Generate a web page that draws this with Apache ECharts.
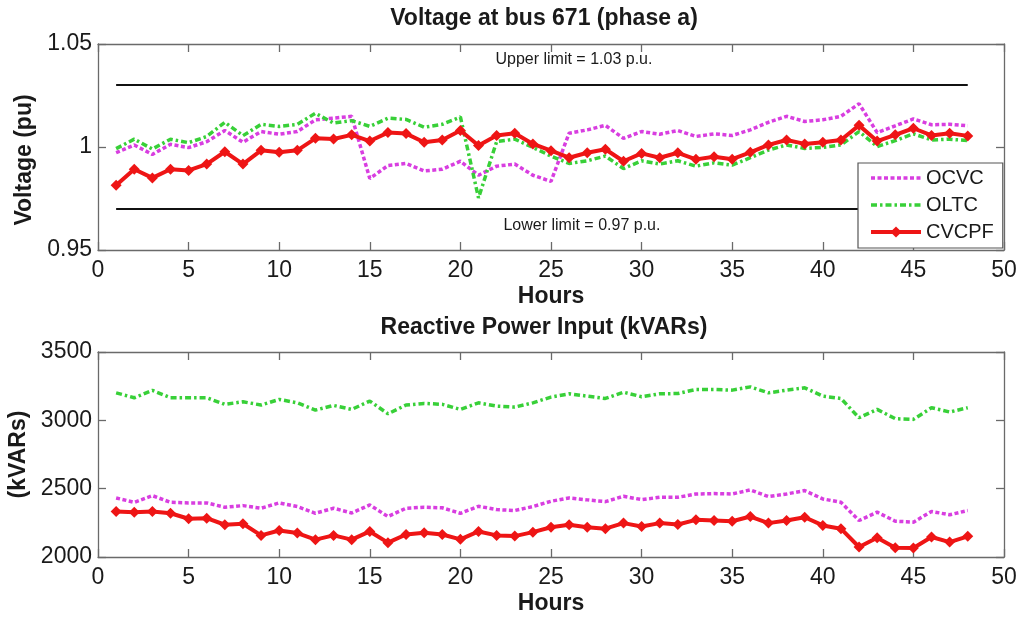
<!DOCTYPE html>
<html>
<head>
<meta charset="utf-8">
<script src="https://cdn.jsdelivr.net/npm/echarts@6/dist/echarts.min.js"></script>
<style>
html,body{margin:0;padding:0;background:#fff;}
#chart{width:1024px;height:621px;}
</style>
</head>
<body>
<div id="chart"></div>
<script>
// ---- data ----
const hours = [1,2,3,4,5,6,7,8,9,10,11,12,13,14,15,16,17,18,19,20,21,22,23,24,25,26,27,28,29,30,31,32,33,34,35,36,37,38,39,40,41,42,43,44,45,46,47,48];
const xTicks = [0,5,10,15,20,25,30,35,40,45,50];
const voltageTicks = [0.95,1,1.05];
const powerTicks = [2000,2500,3000,3500];
const seriesNames = ['OCVC','OLTC','CVCPF'];

const voltOCVC = [0.9972,1.0010,0.9964,1.0013,0.9997,1.0026,1.0080,1.0023,1.0075,1.0062,1.0075,1.0132,1.0140,1.0149,0.9847,0.9910,0.9920,0.9884,0.9892,0.9931,0.9863,0.9907,0.9917,0.9863,0.9833,1.0067,1.0083,1.0105,1.0042,1.0075,1.0062,1.0080,1.0051,1.0064,1.0056,1.0083,1.0120,1.0149,1.0124,1.0132,1.0149,1.0210,1.0070,1.0103,1.0136,1.0108,1.0110,1.0103];
const voltOLTC = [0.9992,1.0038,0.9990,1.0038,1.0021,1.0051,1.0120,1.0055,1.0110,1.0100,1.0110,1.0164,1.0116,1.0128,1.0100,1.0140,1.0134,1.0096,1.0110,1.0146,0.9753,1.0026,1.0038,0.9998,0.9956,0.9920,0.9933,0.9956,0.9895,0.9933,0.9917,0.9933,0.9907,0.9923,0.9912,0.9948,0.9985,1.0010,0.9993,0.9998,1.0010,1.0075,1.0002,1.0031,1.0064,1.0034,1.0038,1.0031];
const voltCVCPF = [0.9814,0.9892,0.9850,0.9892,0.9886,0.9917,0.9977,0.9917,0.9984,0.9974,0.9984,1.0042,1.0039,1.0059,1.0029,1.0070,1.0065,1.0023,1.0034,1.0080,1.0007,1.0056,1.0067,1.0015,0.9982,0.9948,0.9972,0.9989,0.9931,0.9969,0.9948,0.9972,0.9940,0.9953,0.9941,0.9974,1.0010,1.0034,1.0015,1.0023,1.0034,1.0105,1.0029,1.0059,1.0091,1.0056,1.0067,1.0054];

const powOCVC = [2432,2400,2449,2400,2396,2396,2364,2376,2357,2396,2369,2320,2357,2322,2381,2296,2357,2364,2360,2320,2371,2347,2340,2369,2408,2432,2418,2405,2444,2420,2437,2437,2461,2464,2461,2491,2442,2461,2486,2425,2400,2267,2328,2262,2255,2333,2309,2340];
const powOLTC = [3201,3165,3219,3165,3165,3165,3117,3136,3112,3153,3128,3075,3109,3080,3141,3048,3112,3124,3117,3080,3128,3104,3097,3128,3170,3194,3177,3160,3206,3173,3194,3196,3226,3226,3221,3245,3201,3221,3238,3177,3160,3019,3080,3012,3007,3092,3061,3092];
const powCVCPF = [2333,2328,2333,2320,2280,2284,2236,2243,2158,2194,2175,2127,2158,2127,2187,2105,2165,2178,2165,2129,2187,2158,2153,2182,2218,2236,2218,2207,2248,2223,2248,2238,2272,2267,2262,2296,2248,2267,2291,2231,2207,2073,2141,2068,2066,2146,2109,2151];

const limitValues = [1.03, 0.97];
const limitLabels = ['Upper limit = 1.03 p.u.', 'Lower limit = 0.97 p.u.'];
const titles = ['Voltage at bus 671 (phase a)', 'Reactive Power Input (kVARs)'];
const axisNames = {x:'Hours', yTop:'Voltage (pu)', yBottom:'(kVARs)'};

// ---- styles ----
const FONT = '"Liberation Sans", Arial, Helvetica, sans-serif';
const AXIS_COLOR = '#6a6a6a';
const TEXT_COLOR = '#1a1a1a';
const C_OCVC = '#d83ee0';
const C_OLTC = '#38d038';
const C_CVCPF = '#ee1515';
const DOT = [4, 2.5];
const DASHDOT = [6, 3, 2.5, 3];

const pairs = (vals) => hours.map((h, i) => [h, vals[i]]);
const tickFmt = (ticks) => (v) => {
  const t = ticks.find(k => Math.abs(k - v) < 1e-9);
  return t === undefined ? '' : String(t);
};

function xAxisDef(gi, pos) {
  const main = pos === 'bottom';
  return {
    gridIndex: gi, type: 'value', position: pos,
    min: xTicks[0], max: xTicks[xTicks.length - 1], interval: xTicks[1] - xTicks[0],
    axisLine: {show: true, onZero: false, lineStyle: {color: AXIS_COLOR, width: 1.3}},
    axisTick: {show: true, inside: true, length: 8, lineStyle: {color: AXIS_COLOR, width: 1.3}},
    axisLabel: {show: main, fontSize: 23, color: TEXT_COLOR, fontFamily: FONT, margin: 9, formatter: tickFmt(xTicks)},
    splitLine: {show: false},
    name: main ? axisNames.x : '',
    nameLocation: 'middle', nameGap: 35,
    nameTextStyle: {fontSize: 23, fontWeight: 'bold', color: TEXT_COLOR, fontFamily: FONT}
  };
}
function yAxisDef(gi, pos, ticks, name, pad) {
  const main = pos === 'left';
  return {
    gridIndex: gi, type: 'value', position: pos,
    min: ticks[0], max: ticks[ticks.length - 1], interval: ticks[1] - ticks[0],
    axisLine: {show: true, onZero: false, lineStyle: {color: AXIS_COLOR, width: 1.3}},
    axisTick: {show: true, inside: true, length: 8, lineStyle: {color: AXIS_COLOR, width: 1.3}},
    axisLabel: {show: main, fontSize: 23, color: TEXT_COLOR, fontFamily: FONT, margin: 6, formatter: tickFmt(ticks)},
    splitLine: {show: false},
    name: main ? name : '',
    nameLocation: 'middle', nameGap: 59,
    nameTextStyle: {fontSize: 23, fontWeight: 'bold', color: TEXT_COLOR, fontFamily: FONT, padding: pad}
  };
}

function makeSeries(name, vals, gi, color, kind) {
  const s = {
    name: name, type: 'line', xAxisIndex: gi * 2, yAxisIndex: gi * 2,
    data: pairs(vals), z: kind === 'solid' ? 5 : 3,
    lineStyle: {color: color, width: 3.5},
    itemStyle: {color: color},
    animation: false
  };
  if (kind === 'dot') {
    s.symbol = 'none'; s.showSymbol = false;
    s.lineStyle.type = DOT;
  } else if (kind === 'dashdot') {
    s.symbol = 'none'; s.showSymbol = false;
    s.lineStyle.type = DASHDOT;
  } else {
    s.symbol = 'diamond'; s.symbolSize = 11; s.showSymbol = true;
    s.lineStyle.width = 4;
  }
  return s;
}

const limitSeries = {
  name: 'limits', type: 'line', xAxisIndex: 0, yAxisIndex: 0, data: [], silent: true,
  markLine: {
    silent: true, symbol: 'none', animation: false,
    lineStyle: {color: '#111', width: 2, type: 'solid'},
    data: [
      [{coord: [hours[0], limitValues[0]], label: {show: true, formatter: limitLabels[0], position: 'insideMiddleTop', distance: 18, offset: [32, 0], fontSize: 16, color: TEXT_COLOR, fontFamily: FONT}},
       {coord: [hours[hours.length - 1], limitValues[0]]}],
      [{coord: [hours[0], limitValues[1]], label: {show: true, formatter: limitLabels[1], position: 'insideMiddleBottom', distance: 9, offset: [40, 0], fontSize: 16, color: TEXT_COLOR, fontFamily: FONT}},
       {coord: [hours[hours.length - 1], limitValues[1]]}]
    ]
  }
};

const option = {
  animation: false,
  backgroundColor: '#fff',
  textStyle: {fontFamily: FONT},
  title: [
    {text: titles[0], left: 544, top: 7, textAlign: 'center', padding: 0,
     textStyle: {fontSize: 23, fontWeight: 'bold', color: TEXT_COLOR, fontFamily: FONT}},
    {text: titles[1], left: 544, top: 316, textAlign: 'center', padding: 0,
     textStyle: {fontSize: 23, fontWeight: 'bold', color: TEXT_COLOR, fontFamily: FONT}}
  ],
  legend: {
    z: 20,
    data: [
      {name: seriesNames[0], itemStyle: {opacity: 0}, lineStyle: {color: C_OCVC, width: 3.5, type: DOT}},
      {name: seriesNames[1], itemStyle: {opacity: 0}, lineStyle: {color: C_OLTC, width: 3.5, type: DASHDOT}},
      {name: seriesNames[2], lineStyle: {color: C_CVCPF, width: 4, type: 'solid'}}
    ],
    orient: 'vertical', left: 858, top: 163,
    backgroundColor: '#fff', borderColor: '#555', borderWidth: 1.2, borderRadius: 0,
    padding: [5, 9, 6, 11], itemGap: 7, itemWidth: 50, itemHeight: 14,
    textStyle: {fontSize: 20, color: TEXT_COLOR, fontFamily: FONT, lineHeight: 20},
    selectedMode: false
  },
  grid: [
    {left: 98, right: 20, top: 44, height: 206, outerBoundsMode: 'none', containLabel: false},
    {left: 98, right: 20, top: 352, height: 205, outerBoundsMode: 'none', containLabel: false}
  ],
  xAxis: [xAxisDef(0, 'bottom'), xAxisDef(0, 'top'), xAxisDef(1, 'bottom'), xAxisDef(1, 'top')],
  yAxis: [
    yAxisDef(0, 'left', voltageTicks, axisNames.yTop, [0, 26, 0, 0]),
    yAxisDef(0, 'right', voltageTicks, '', 0),
    yAxisDef(1, 'left', powerTicks, axisNames.yBottom, 0),
    yAxisDef(1, 'right', powerTicks, '', 0)
  ],
  series: [
    limitSeries,
    makeSeries('OCVC', voltOCVC, 0, C_OCVC, 'dot'),
    makeSeries('OLTC', voltOLTC, 0, C_OLTC, 'dashdot'),
    makeSeries('CVCPF', voltCVCPF, 0, C_CVCPF, 'solid'),
    makeSeries('OCVC', powOCVC, 1, C_OCVC, 'dot'),
    makeSeries('OLTC', powOLTC, 1, C_OLTC, 'dashdot'),
    makeSeries('CVCPF', powCVCPF, 1, C_CVCPF, 'solid')
  ]
};

const chart = echarts.init(document.getElementById('chart'), null, {renderer: 'canvas'});
chart.setOption(option);
</script>
</body>
</html>
